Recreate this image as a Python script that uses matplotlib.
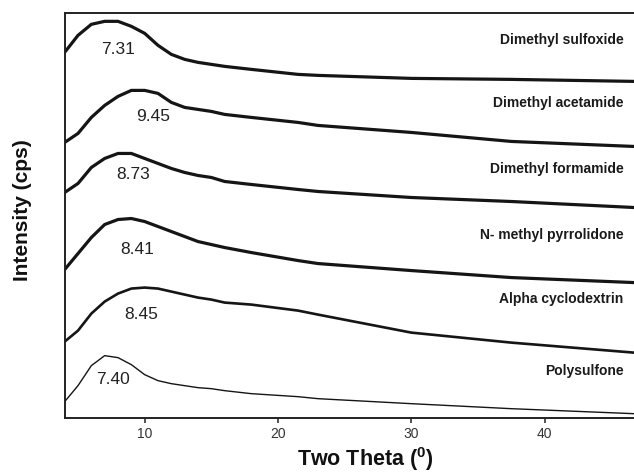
import matplotlib
matplotlib.use('Agg')
import matplotlib.pyplot as plt

plt.rcParams['font.family'] = ['Liberation Sans', 'DejaVu Sans']
plt.rcParams['mathtext.fontset'] = 'custom'
plt.rcParams['mathtext.rm'] = 'Liberation Sans'
plt.rcParams['mathtext.bf'] = 'Liberation Sans:bold'

# ── Dados (intensidade em unidades arbitrárias, já deslocadas) ──
two_theta = [4, 5, 6, 7, 8, 9, 10, 11, 12, 13, 14, 15, 16, 18, 21.5, 23, 30, 37.5, 46.7]

dmso = [365, 382, 393, 396, 396, 391, 384, 372, 363, 358, 355, 353, 351, 348, 343, 342, 339, 338, 336]
dmac = [275, 284, 300, 312, 321, 327, 327, 324, 315, 310, 308, 306, 303, 300, 295, 292, 285, 276, 271]
dmf = [225, 234, 250, 259, 264, 264, 259, 254, 249, 245, 242, 240, 236, 233, 228, 226, 220, 216, 210]
nmp = [148, 164, 180, 193, 198, 199, 196, 191, 186, 181, 176, 173, 170, 165, 157, 154, 147, 140, 135]
alpha_cd = [76, 87, 104, 116, 124, 129, 130, 129, 126, 123, 120, 118, 115, 113, 107, 103, 85, 75, 65]
psf = [16, 32, 52, 62, 60, 53, 43, 37, 34, 32, 30, 29, 27, 24, 21, 19, 14, 9, 4]

series = [dmso, dmac, dmf, nmp, alpha_cd, psf]
names = ['Dimethyl sulfoxide', 'Dimethyl acetamide', 'Dimethyl formamide',
         'N- methyl pyrrolidone', 'Alpha cyclodextrin', 'Polysulfone']
name_y = [377, 314, 248, 183, 119, 47]

peaks = ['7.31', '9.45', '8.73', '8.41', '8.45', '7.40']
peak_x = [7.97, 10.6, 9.1, 9.47, 9.77, 7.6]
peak_y = [368, 301, 243, 168, 103, 38]

# ── Figura ────────────────────────────────────────────────────────────────────
fig = plt.figure(figsize=(6.34, 4.76), dpi=100)
ax = fig.add_axes([0.102, 0.1225, 0.898, 0.8495])

larguras = [2.3, 2.3, 2.3, 2.3, 1.9, 1.0]
for ys, lw in zip(series, larguras):
    ax.plot(two_theta, ys, color='#151515', lw=lw, solid_joinstyle='round')

for nome, y in zip(names, name_y):
    ax.text(45.9, y, nome, ha='right', va='center', fontsize=10,
            fontweight='bold', color='#1a1a1a')

for txt, x, y in zip(peaks, peak_x, peak_y):
    ax.text(x, y, txt, ha='center', va='center', fontsize=12.5, color='#222222')

ax.set_xlim(4, 46.7)
ax.set_ylim(0, 404)
ax.set_xticks([10, 20, 30, 40])
ax.set_yticks([])
ax.tick_params(axis='x', direction='out', length=3.5, width=1.2,
               labelsize=10, colors='#333333', pad=3)
ax.spines['right'].set_visible(False)
for s in ['left', 'top', 'bottom']:
    ax.spines[s].set_linewidth(1.4)
    ax.spines[s].set_color('#222222')

fig.text(0.576, 0.036, r'Two Theta ($^{\mathbf{0}}$)', ha='center', va='center',
         fontsize=15.5, fontweight='bold', color='#111111')
fig.text(0.036, 0.559, 'Intensity (cps)', rotation=90, ha='center', va='center',
         fontsize=15, fontweight='bold', color='#111111')

fig.savefig('out.png', dpi=100)
